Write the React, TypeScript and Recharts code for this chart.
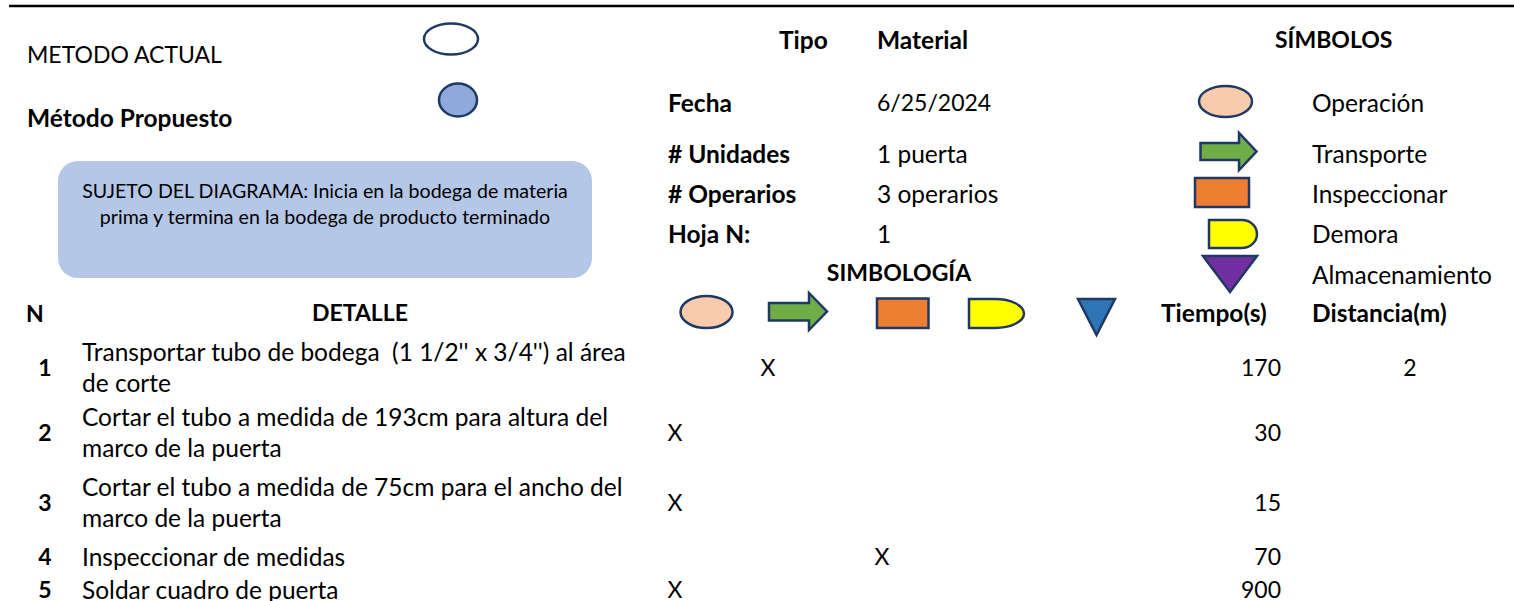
import React from "react";
import { ScatterChart, Scatter, XAxis, YAxis, Customized } from "recharts";

// ---------- data ----------
const symbolNames = ["Operación", "Transporte", "Inspeccionar", "Demora", "Almacenamiento"];
const stepNumbers = [1, 2, 3, 4, 5];
const stepDetails = [
  ["Transportar tubo de bodega  (1 1/2'' x 3/4'') al área", "de corte"],
  ["Cortar el tubo a medida de 193cm para altura del", "marco de la puerta"],
  ["Cortar el tubo a medida de 75cm para el ancho del", "marco de la puerta"],
  ["Inspeccionar de medidas"],
  ["Soldar cuadro de puerta"],
];
const stepSymbol = ["Transporte", "Operación", "Operación", "Inspeccionar", "Operación"];
const stepTime = [170, 30, 15, 70, 900];
const stepDistance: (number | null)[] = [2, null, null, null, null];
const infoLabels = ["Fecha", "# Unidades", "# Operarios", "Hoja N:"];
const infoValues = ["6/25/2024", "1 puerta", "3 operarios", "1"];

// ---------- layout / style ----------
const W = 1514;
const H = 601;
const FONT = "Lato, 'Open Sans', sans-serif";
const FS = 24.5; // mixed / lowercase text
const FC = 23; // caps and digits
const NAVY = "#1f3864";
const colX: Record<string, number> = {
  "Operación": 675,
  "Transporte": 768,
  "Inspeccionar": 882,
  "Demora": 995,
  "Almacenamiento": 1098,
};
const rowY = [368, 433, 503, 557, 590];
const lineGap = 31;
const infoY = [103, 154, 194, 234];
const legendY = [103, 154, 194, 234, 275];

const T = ({ x, y, t, bold, anchor, size }: any) => {
  const s = size || FS;
  return (
    <text
      x={x}
      y={y + s * 0.36}
      fontFamily={FONT}
      fontSize={s}
      fontWeight={bold ? 700 : 400}
      textAnchor={anchor || "start"}
      fill="#000"
      style={{ whiteSpace: "pre" }}
      xmlSpace="preserve"
    >
      {t}
    </text>
  );
};

const Ell = ({ cx, cy, rx, ry, fill }: any) => (
  <ellipse cx={cx} cy={cy} rx={rx} ry={ry} fill={fill} stroke={NAVY} strokeWidth={2.5} />
);
const Arrow = ({ x0, x1, xh, y0, y1, b0, b1, fill }: any) => (
  <path
    d={`M${x0},${b0} H${xh} V${y0} L${x1},${(y0 + y1) / 2} L${xh},${y1} V${b1} H${x0} Z`}
    fill={fill}
    stroke={NAVY}
    strokeWidth={2.5}
    strokeLinejoin="miter"
  />
);
const Sq = ({ x0, x1, y0, y1, fill }: any) => (
  <rect x={x0} y={y0} width={x1 - x0} height={y1 - y0} fill={fill} stroke={NAVY} strokeWidth={2.5} />
);
const Dshape = ({ x0, xm, x1, y0, y1, fill }: any) => (
  <path
    d={`M${x0},${y0} H${xm} A${x1 - xm},${(y1 - y0) / 2} 0 0 1 ${xm},${y1} H${x0} Z`}
    fill={fill}
    stroke={NAVY}
    strokeWidth={2.5}
  />
);
const Tri = ({ x0, x1, y0, y1, fill }: any) => (
  <path d={`M${x0},${y0} H${x1} L${(x0 + x1) / 2},${y1} Z`} fill={fill} stroke={NAVY} strokeWidth={2.5} strokeLinejoin="miter" />
);

const Header = () => (
  <g>
    <line x1={9} x2={W} y1={6} y2={6} stroke="#000" strokeWidth={2.5} />
    <T x={27} y={55} t="METODO ACTUAL" size={FC} />
    <T x={27} y={118} t="Método Propuesto" bold />
    <Ell cx={451} cy={39} rx={27} ry={15.5} fill="#ffffff" />
    <Ell cx={458} cy={100} rx={19} ry={16.5} fill="#8eaadb" />
    <rect x={58} y={161} width={534} height={117} rx={20} ry={20} fill="#b4c7e7" />
    <T x={325} y={191} t="SUJETO DEL DIAGRAMA: Inicia en la bodega de materia" anchor="middle" size={19.6} />
    <T x={325} y={217} t="prima y termina en la bodega de producto terminado" anchor="middle" size={19.6} />

    <T x={779} y={40} t="Tipo" bold />
    <T x={877} y={40} t="Material" bold />
    <T x={1275} y={40} t="SÍMBOLOS" bold size={FC} />
    {infoLabels.map((l, i) => (
      <g key={l}>
        <T x={668} y={infoY[i]} t={l} bold />
        <T x={877} y={infoY[i]} t={infoValues[i]} size={i === 0 ? FC : FS} />
      </g>
    ))}
    <T x={899} y={273} t="SIMBOLOGÍA" bold anchor="middle" size={FC} />

    {/* legend on right */}
    <Ell cx={1225.5} cy={101.5} rx={26.5} ry={15.5} fill="#f8cbad" />
    <Arrow x0={1200.5} x1={1256.5} xh={1239} y0={133} y1={170} b0={143} b1={160} fill="#70ad47" />
    <Sq x0={1195} x1={1249} y0={178} y1={207} fill="#ed7d31" />
    <Dshape x0={1209} xm={1242} x1={1257} y0={220} y1={248} fill="#ffff00" />
    <Tri x0={1203} x1={1257} y0={256} y1={292} fill="#7030a0" />
    {symbolNames.map((s, i) => (
      <T key={s} x={1312} y={legendY[i]} t={s} />
    ))}

    {/* column header row */}
    <T x={26} y={314} t="N" bold size={FC} />
    <T x={360} y={313} t="DETALLE" bold anchor="middle" size={FC} />
    <Ell cx={706.5} cy={312} rx={26} ry={16} fill="#f8cbad" />
    <Arrow x0={769} x1={827} xh={809} y0={293} y1={330} b0={303} b1={320.5} fill="#70ad47" />
    <Sq x0={877} x1={928.5} y0={298.5} y1={328} fill="#ed7d31" />
    <Dshape x0={969} xm={995} x1={1024} y0={299} y1={328} fill="#ffff00" />
    <Tri x0={1078} x1={1115} y0={299} y1={335} fill="#2e75b6" />
    <T x={1161} y={313} t="Tiempo(s)" bold />
    <T x={1312} y={313} t="Distancia(m)" bold />
  </g>
);

const markData = stepNumbers.map((n, i) => ({ x: colX[stepSymbol[i]], y: rowY[i] }));
const numData = stepNumbers.map((n, i) => ({ x: 45, y: rowY[i], n, lines: stepDetails[i] }));
const timeData = stepTime.map((t, i) => ({ x: 1281, y: rowY[i], t }));
const distData = stepDistance
  .map((d, i) => ({ x: 1410, y: rowY[i], d }))
  .filter((p) => p.d !== null);

const MarkShape = (p: any) => <T x={p.cx} y={p.cy} t="X" anchor="middle" size={FC} />;
const NumShape = (p: any) => {
  const lines: string[] = p.payload.lines;
  const top = p.cy - ((lines.length - 1) * lineGap) / 2;
  return (
    <g>
      <T x={p.cx} y={p.cy} t={String(p.payload.n)} bold anchor="middle" size={FC} />
      {lines.map((l, k) => (
        <T key={k} x={82} y={top + k * lineGap} t={l} />
      ))}
    </g>
  );
};
const TimeShape = (p: any) => <T x={p.cx} y={p.cy} t={String(p.payload.t)} anchor="end" size={FC} />;
const DistShape = (p: any) => <T x={p.cx} y={p.cy} t={String(p.payload.d)} anchor="middle" size={FC} />;

export default function App() {
  return (
    <div style={{ position: "absolute", left: 0, top: 0, width: W, height: H, background: "#fff" }}>
      <ScatterChart width={W} height={H} margin={{ top: 0, right: 0, bottom: 0, left: 0 }}>
        <XAxis type="number" dataKey="x" domain={[0, W]} hide />
        <YAxis type="number" dataKey="y" domain={[0, H]} reversed hide />
        <Customized component={Header} />
        <Scatter data={numData} shape={NumShape} isAnimationActive={false} />
        <Scatter data={markData} shape={MarkShape} isAnimationActive={false} />
        <Scatter data={timeData} shape={TimeShape} isAnimationActive={false} />
        <Scatter data={distData} shape={DistShape} isAnimationActive={false} />
      </ScatterChart>
    </div>
  );
}
